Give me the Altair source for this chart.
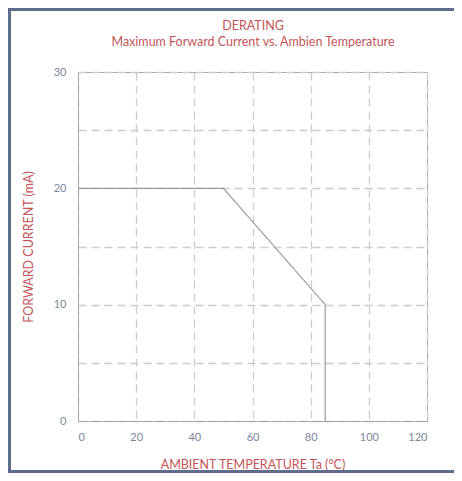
import altair as alt
import pandas as pd

# Data
temperature = [0, 50, 85, 85]
current = [20, 20, 10, 0]
x_ticks = [0, 20, 40, 60, 80, 100, 120]
y_grid = [0, 5, 10, 15, 20, 25, 30]
title_lines = ["DERATING", "Maximum Forward Current vs. Ambien Temperature"]

RED = "#c4555a"
LABEL = "#7d879b"
GRID = "#cccccc"
DOMAIN = "#a8a8a8"
FRAME = "#5e6d8c"
FONT = "Lato"

df = pd.DataFrame({"t": temperature, "i": current, "order": list(range(len(temperature)))})

line = alt.Chart(df).mark_line(color="#9e9e9e", strokeWidth=1.2).encode(
    x=alt.X("t:Q",
            scale=alt.Scale(domain=[0, 120], nice=False),
            axis=alt.Axis(values=x_ticks, title="AMBIENT TEMPERATURE Ta (°C)",
                          grid=True, gridDash=[8, 5], gridColor=GRID, gridWidth=1.3,
                          ticks=False, labelPadding=10, titlePadding=16,
                          domainColor=DOMAIN, labelColor=LABEL, labelFontSize=11,
                          labelFont=FONT, titleFont=FONT, titleColor=RED,
                          titleFontSize=12.5, titleFontWeight="normal")),
    y=alt.Y("i:Q",
            scale=alt.Scale(domain=[0, 30], nice=False),
            axis=alt.Axis(values=y_grid, title="FORWARD CURRENT (mA)",
                          labelExpr="datum.value % 10 === 0 ? datum.label : ''",
                          grid=True, gridDash=[8, 5], gridColor=GRID, gridWidth=1.3,
                          ticks=False, labelPadding=12, titlePadding=18,
                          domainColor=DOMAIN, labelColor=LABEL, labelFontSize=11,
                          labelFont=FONT, titleFont=FONT, titleColor=RED,
                          titleFontSize=12.5, titleFontWeight="normal")),
    order="order:O",
)

# decorative frame: top, left and bottom edges only
frame_top = alt.Chart(pd.DataFrame({"a": [0]})).mark_rule(
    color=FRAME, strokeWidth=3, clip=False
).encode(x=alt.value(-70), x2=alt.value(376), y=alt.value(-62.5))
frame_left = alt.Chart(pd.DataFrame({"a": [0]})).mark_rule(
    color=FRAME, strokeWidth=3, clip=False
).encode(x=alt.value(-68.5), y=alt.value(-64), y2=alt.value(401))
frame_bottom = alt.Chart(pd.DataFrame({"a": [0]})).mark_rule(
    color=FRAME, strokeWidth=3, clip=False
).encode(x=alt.value(-70), x2=alt.value(376), y=alt.value(399.5))

title_df = pd.DataFrame({"text": title_lines})
title_main = alt.Chart(title_df).transform_filter(alt.datum.text == title_lines[0]).mark_text(
    color=RED, font=FONT, fontSize=12.5, baseline="middle", align="center", clip=False
).encode(text="text:N", x=alt.value(175), y=alt.value(-46))
title_sub = alt.Chart(title_df).transform_filter(alt.datum.text == title_lines[1]).mark_text(
    color=RED, font=FONT, fontSize=12.5, baseline="middle", align="center", clip=False
).encode(text="text:N", x=alt.value(175), y=alt.value(-30))

chart = alt.layer(frame_top, frame_left, frame_bottom, line, title_main, title_sub).properties(
    width=349, height=349,
    autosize=alt.AutoSizeParams(type="none"),
    padding={"left": 70, "top": 64, "right": 27, "bottom": 52},
).configure_view(stroke=DOMAIN, strokeWidth=1)

chart.save("out.html", embed_options={"renderer": "svg", "actions": False})
